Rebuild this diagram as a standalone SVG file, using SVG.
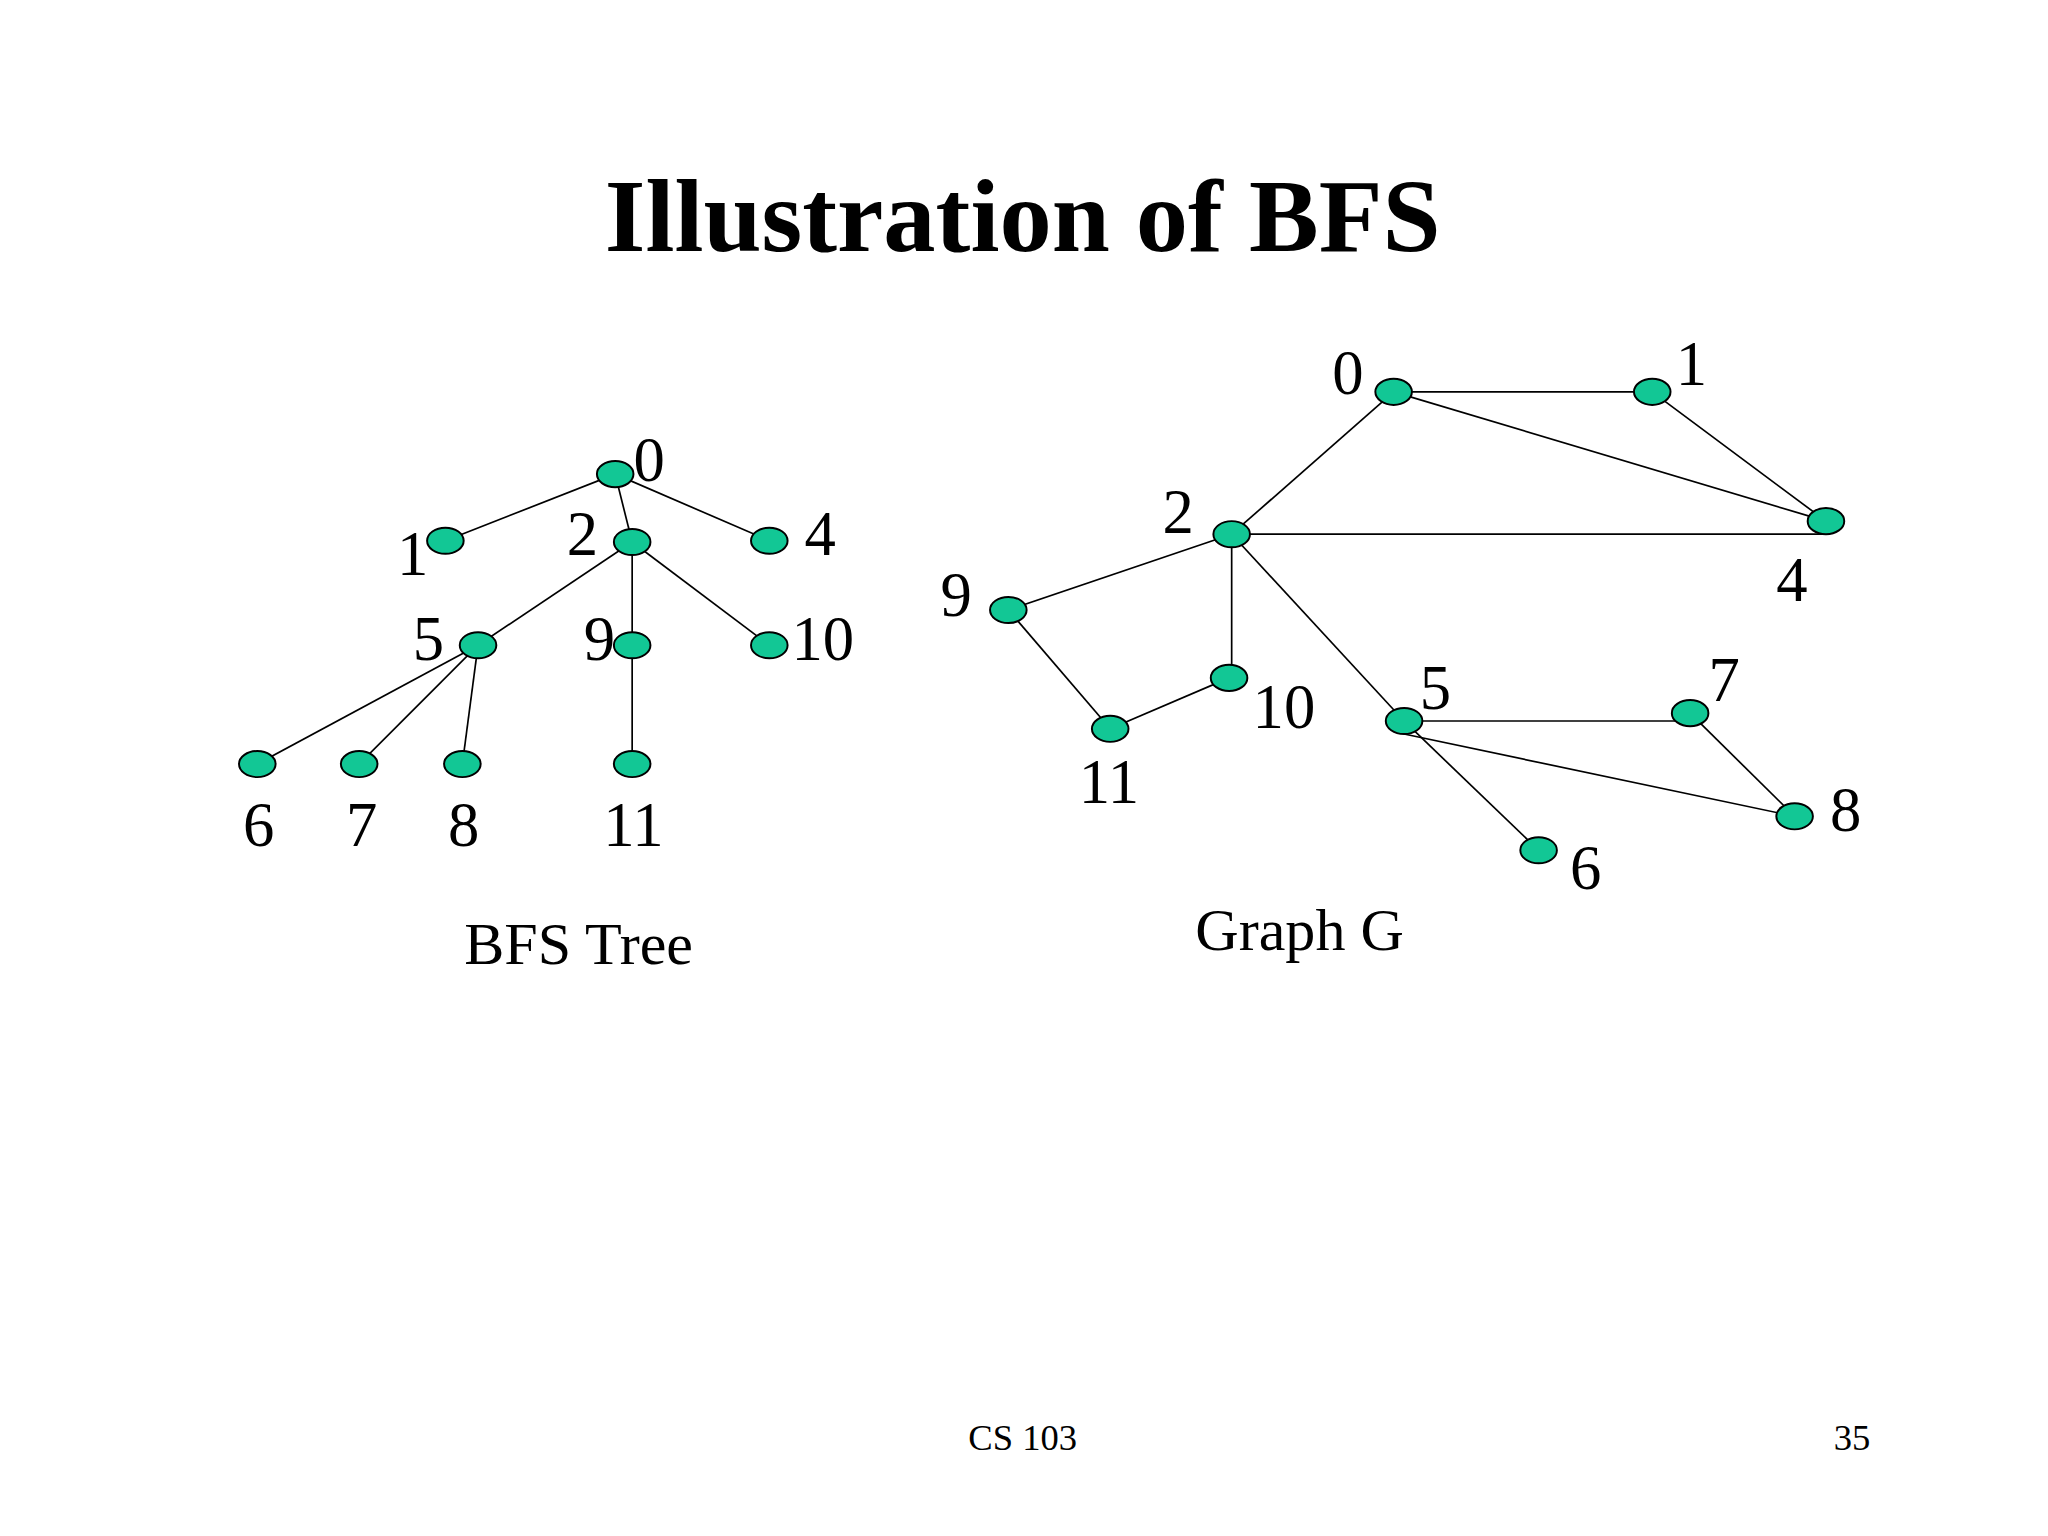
<svg xmlns="http://www.w3.org/2000/svg" width="2048" height="1536" viewBox="0 0 2048 1536">
<style>
text{font-family:"Liberation Serif","Times New Roman",serif;fill:#000;text-anchor:middle}
.l{font-size:48px}
.n{fill:#12C795;stroke:#000;stroke-width:1.5}
.e line{stroke:#000;stroke-width:1.3}
</style>
<rect width="2048" height="1536" fill="#fff"/>
<g transform="scale(1.30612)">
<text x="783" y="192" style="font-size:80px;font-weight:bold">Illustration of BFS</text>
<g class="e" id="tree-edges">
<line x1="471" y1="363" x2="341" y2="414"/><line x1="471" y1="363" x2="484" y2="415"/><line x1="471" y1="363" x2="589" y2="414"/>
<line x1="484" y1="415" x2="366" y2="494"/><line x1="484" y1="415" x2="484" y2="585"/><line x1="484" y1="415" x2="589" y2="494"/>
<line x1="366" y1="494" x2="197" y2="585"/><line x1="366" y1="494" x2="275" y2="585"/><line x1="366" y1="494" x2="354" y2="585"/>
</g>
<g class="e" id="graph-edges">
<line x1="1067" y1="300" x2="1265" y2="300"/><line x1="1067" y1="300" x2="1398" y2="399"/><line x1="1265" y1="300" x2="1398" y2="399"/>
<line x1="1067" y1="300" x2="943" y2="409"/><line x1="943" y1="409" x2="1398" y2="409"/><line x1="943" y1="409" x2="772" y2="467"/>
<line x1="772" y1="467" x2="850" y2="558"/><line x1="850" y1="558" x2="941" y2="519"/><line x1="943" y1="409" x2="943" y2="519"/>
<line x1="943" y1="409" x2="1075" y2="552"/><line x1="1075" y1="552" x2="1294" y2="552"/><line x1="1294" y1="546" x2="1374" y2="625"/>
<line x1="1075" y1="562" x2="1374" y2="625"/><line x1="1075" y1="552" x2="1178" y2="651"/>
</g>
<g id="t0"><ellipse class="n" cx="471" cy="363" rx="14" ry="10"/><text class="l" x="497" y="368">0</text></g>
<g id="t1"><ellipse class="n" cx="341" cy="414" rx="14" ry="10"/><text class="l" x="316" y="440">1</text></g>
<g id="t2"><ellipse class="n" cx="484" cy="415" rx="14" ry="10"/><text class="l" x="446" y="425">2</text></g>
<g id="t4"><ellipse class="n" cx="589" cy="414" rx="14" ry="10"/><text class="l" x="628" y="425">4</text></g>
<g id="t5"><ellipse class="n" cx="366" cy="494" rx="14" ry="10"/><text class="l" x="328" y="505">5</text></g>
<g id="t9"><ellipse class="n" cx="484" cy="494" rx="14" ry="10"/><text class="l" x="459" y="505">9</text></g>
<g id="t10"><ellipse class="n" cx="589" cy="494" rx="14" ry="10"/><text class="l" x="630" y="505">10</text></g>
<g id="t6"><ellipse class="n" cx="197" cy="585" rx="14" ry="10"/><text class="l" x="198" y="648">6</text></g>
<g id="t7"><ellipse class="n" cx="275" cy="585" rx="14" ry="10"/><text class="l" x="277" y="648">7</text></g>
<g id="t8"><ellipse class="n" cx="354" cy="585" rx="14" ry="10"/><text class="l" x="355" y="648">8</text></g>
<g id="t11"><ellipse class="n" cx="484" cy="585" rx="14" ry="10"/><text class="l" x="485" y="648">11</text></g>
<text x="443" y="738" style="font-size:46px">BFS Tree</text>
<g id="g0"><ellipse class="n" cx="1067" cy="300" rx="14" ry="10"/><text class="l" x="1032" y="302">0</text></g>
<g id="g1"><ellipse class="n" cx="1265" cy="300" rx="14" ry="10"/><text class="l" x="1295" y="295">1</text></g>
<g id="g4"><ellipse class="n" cx="1398" cy="399" rx="14" ry="10"/><text class="l" x="1372" y="460">4</text></g>
<g id="g2"><ellipse class="n" cx="943" cy="409" rx="14" ry="10"/><text class="l" x="902" y="408">2</text></g>
<g id="g9"><ellipse class="n" cx="772" cy="467" rx="14" ry="10"/><text class="l" x="732" y="472">9</text></g>
<g id="g11"><ellipse class="n" cx="850" cy="558" rx="14" ry="10"/><text class="l" x="849" y="615">11</text></g>
<g id="g10"><ellipse class="n" cx="941" cy="519" rx="14" ry="10"/><text class="l" x="983" y="557">10</text></g>
<g id="g5"><ellipse class="n" cx="1075" cy="552" rx="14" ry="10"/><text class="l" x="1099" y="543">5</text></g>
<g id="g7"><ellipse class="n" cx="1294" cy="546" rx="14" ry="10"/><text class="l" x="1320" y="537">7</text></g>
<g id="g8"><ellipse class="n" cx="1374" cy="625" rx="14" ry="10"/><text class="l" x="1413" y="636">8</text></g>
<g id="g6"><ellipse class="n" cx="1178" cy="651" rx="14" ry="10"/><text class="l" x="1214" y="681">6</text></g>
<text x="995" y="727" style="font-size:46px">Graph G</text>
<text x="783" y="1110" style="font-size:28px">CS 103</text>
<text x="1418" y="1110" style="font-size:28px">35</text>
</g>
</svg>
